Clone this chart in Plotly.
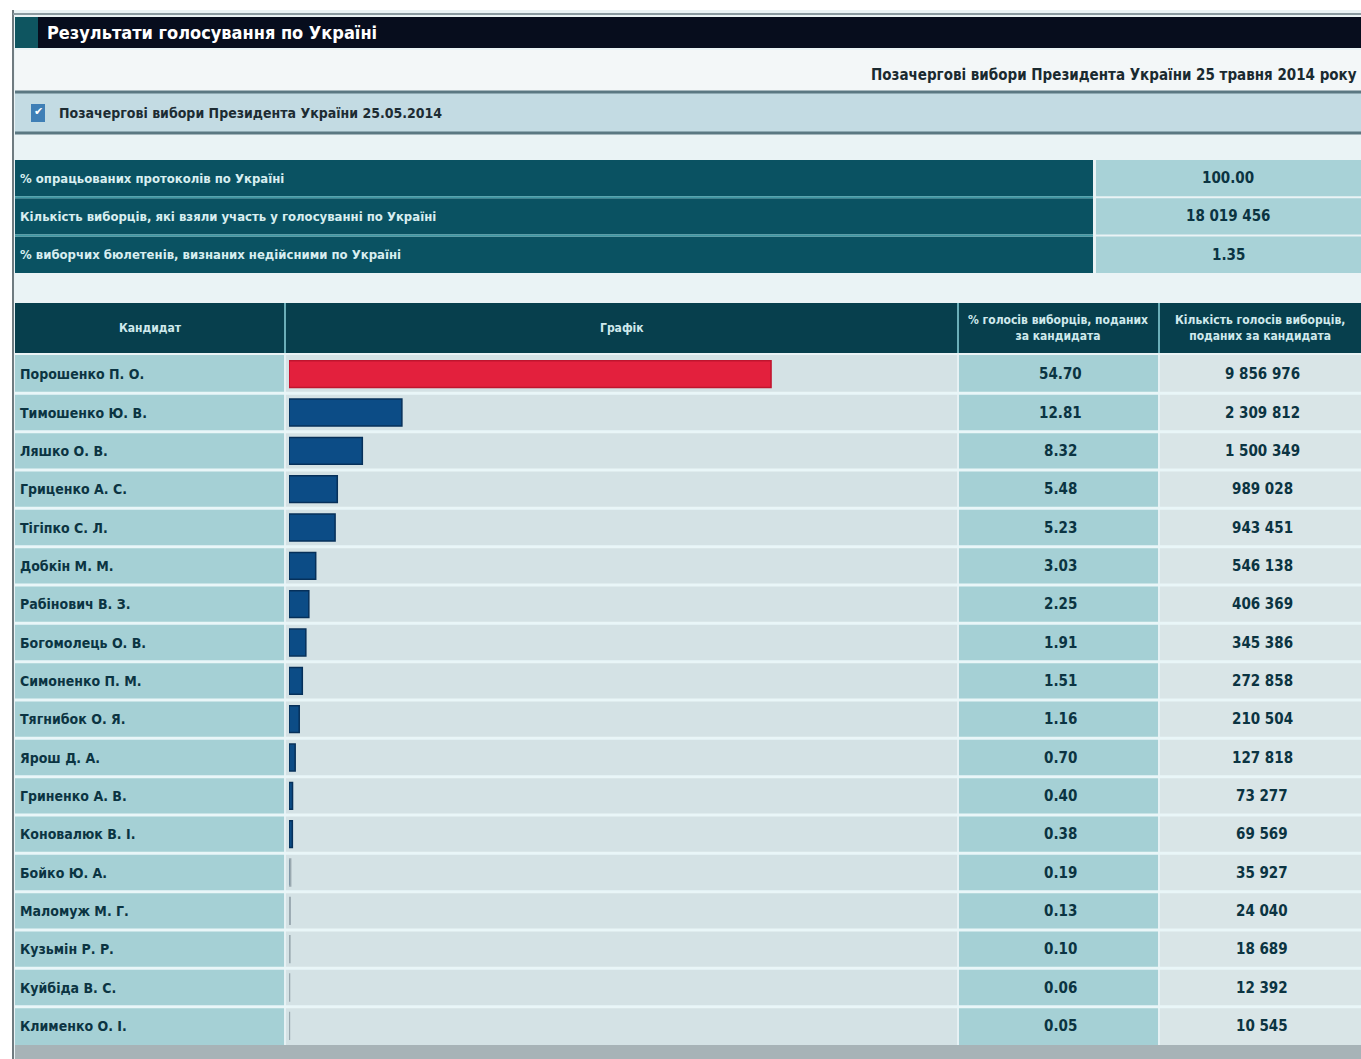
import plotly.graph_objects as go

W, H = 1361, 1059

# ---------------- data ----------------
candidates = ["Порошенко П. О.", "Тимошенко Ю. В.", "Ляшко О. В.", "Гриценко А. С.",
              "Тігіпко С. Л.", "Добкін М. М.", "Рабінович В. З.", "Богомолець О. В.",
              "Симоненко П. М.", "Тягнибок О. Я.", "Ярош Д. А.", "Гриненко А. В.",
              "Коновалюк В. І.", "Бойко Ю. А.", "Маломуж М. Г.", "Кузьмін Р. Р.",
              "Куйбіда В. С.", "Клименко О. І."]
percent = [54.70, 12.81, 8.32, 5.48, 5.23, 3.03, 2.25, 1.91, 1.51, 1.16,
           0.70, 0.40, 0.38, 0.19, 0.13, 0.10, 0.06, 0.05]
votes = ["9 856 976", "2 309 812", "1 500 349", "989 028", "943 451", "546 138",
         "406 369", "345 386", "272 858", "210 504", "127 818", "73 277",
         "69 569", "35 927", "24 040", "18 689", "12 392", "10 545"]
summary_labels = ["% опрацьованих протоколів по Україні",
                  "Кількість виборців, які взяли участь у голосуванні по Україні",
                  "% виборчих бюлетенів, визнаних недійсними по Україні"]
summary_values = ["100.00", "18 019 456", "1.35"]
column_headers = ["Кандидат", "Графік",
                  "% голосів виборців, поданих<br>за кандидата",
                  "Кількість голосів виборців,<br>поданих за кандидата"]
page_title = "Результати голосування по Україні"
election_title = "Позачергові вибори Президента України 25 травня 2014 року"
election_short = "Позачергові вибори Президента України 25.05.2014"

FONT = "DejaVu Sans Condensed, Liberation Sans Narrow, Arial Narrow, sans-serif"
DARK = "#0b3442"


def X(p):
    return p / W


def Y(p):
    return 1 - p / H


shapes = []
annotations = []


def rect(x0, y0, x1, y1, color, layer="below"):
    shapes.append(dict(type="rect", xref="paper", yref="paper",
                       x0=X(x0), x1=X(x1), y0=Y(y1), y1=Y(y0),
                       fillcolor=color, line=dict(width=0), layer=layer))


def hline(x0, x1, y, color, w):
    shapes.append(dict(type="line", xref="paper", yref="paper",
                       x0=X(x0), x1=X(x1), y0=Y(y), y1=Y(y),
                       line=dict(color=color, width=w), layer="below"))


def vline(x, y0, y1, color, w):
    shapes.append(dict(type="line", xref="paper", yref="paper",
                       x0=X(x), x1=X(x), y0=Y(y0), y1=Y(y1),
                       line=dict(color=color, width=w), layer="below"))


def text(x, y, s, size, color, anchor="left", bold=True, family=FONT):
    annotations.append(dict(xref="paper", yref="paper", x=X(x), y=Y(y), text=s,
                            showarrow=False, xanchor=anchor, yanchor="middle",
                            font=dict(family=family, size=size, color=color,
                                      weight="bold" if bold else "normal")))


# ---------------- page chrome ----------------
rect(13, 10, W, H, "#eaf3f5")
vline(13, 10, H, "#6f7b80", 2)
hline(13, W, 14, "#8a9aa0", 2)
# title bar
rect(15, 17, W, 48, "#070d1d")
rect(15, 17, 38, 48, "#0e5560")
text(45, 33, page_title, 18, "#ffffff")
# election line
rect(15, 50, W, 91, "#f3f7f8")
text(1359, 75, election_title, 15, "#1a2a30", anchor="right")
# section band
rect(15, 91, W, 134, "#c3dbe3")
hline(15, W, 92, "#5b7882", 3)
hline(15, W, 133, "#5b7882", 3)
rect(31, 104, 45, 122, "#3f7fb6")
text(38, 112, "✔", 11, "#ffffff", anchor="center", bold=True, family="DejaVu Sans")
text(57, 113, election_short, 14, "#1d2c33")

# ---------------- summary block ----------------
sum_top, sum_h = 160, 38.3
for i, (lab, val) in enumerate(zip(summary_labels, summary_values)):
    y0 = sum_top + i * sum_h
    rect(15, y0, 1093, y0 + sum_h - 2, "#0a5262")
    rect(1096, y0, W, y0 + sum_h - 2, "#a8d2d7")
    text(18, y0 + sum_h / 2 - 1, lab, 13, "#d8eef0")
    text(1228, y0 + sum_h / 2 - 1, val, 15, DARK, anchor="center")
for i in range(1, 3):
    hline(15, 1093, sum_top + i * sum_h - 1, "#3f97a3", 2)

# ---------------- main table ----------------
cols = [(15, 284), (286, 957), (959, 1158), (1160, W)]
col_colors = ["#a5d0d5", "#d4e2e5", "#a5d0d5", "#d9e5e7"]
head_top, head_bot = 303, 353
body_top, body_bot = 355, 1045
for (x0, x1), c in zip(cols, col_colors):
    rect(x0, head_top, x1, head_bot, "#073f4d")
    rect(x0, body_top, x1, body_bot, c)
for xs in (285, 958, 1159):
    vline(xs, head_top, head_bot, "#3f97a3", 1.5)
    vline(xs, body_top, body_bot, "#e4f1f3", 1.5)
rect(15, body_bot, W, H, "#a7b3b7")
centers = [150, 622, 1058, 1260]
for cx, h in zip(centers, column_headers):
    text(cx, 328, h, 12, "#cfe9ec", anchor="center")

n = len(candidates)
# white separators between rows (data coordinates on y axis)
for i in range(n - 1):
    shapes.append(dict(type="line", xref="paper", yref="y", x0=X(15), x1=1,
                       y0=i + 0.5, y1=i + 0.5,
                       line=dict(color="#e9f6f8", width=3), layer="below"))

for name, p, v in zip(candidates, percent, votes):
    annotations.append(dict(xref="paper", yref="y", x=X(18), y=name, text=name,
                            showarrow=False, xanchor="left", yanchor="middle",
                            font=dict(family=FONT, size=14, color=DARK, weight="bold")))
    annotations.append(dict(xref="paper", yref="y", x=X(1060), y=name, text=f"{p:.2f}",
                            showarrow=False, xanchor="center", yanchor="middle",
                            font=dict(family=FONT, size=15, color=DARK, weight="bold")))
    annotations.append(dict(xref="paper", yref="y", x=X(1262), y=name, text=v,
                            showarrow=False, xanchor="center", yanchor="middle",
                            font=dict(family=FONT, size=15, color=DARK, weight="bold")))

bar_colors = ["#e3203d"] + ["#0c4c86"] * (n - 1)
line_colors = ["#c0142e"] + ["#06305a" if p >= 0.3 else "#9aa9b0" for p in percent[1:]]

fig = go.Figure(go.Bar(x=percent, y=candidates, orientation="h", width=0.7,
                       marker=dict(color=bar_colors,
                                   line=dict(color=line_colors, width=1.5)),
                       hoverinfo="x+y"))

fig.update_layout(
    width=W, height=H, margin=dict(l=0, r=0, t=0, b=0),
    paper_bgcolor="#ffffff", plot_bgcolor="rgba(0,0,0,0)",
    showlegend=False, shapes=shapes, annotations=annotations,
    xaxis=dict(domain=[X(289), X(957)], range=[0, 75.8], visible=False, fixedrange=True),
    yaxis=dict(domain=[Y(body_bot), Y(body_top)], range=[n - 0.5, -0.5],
               type="category", categoryorder="array", categoryarray=candidates,
               visible=False, fixedrange=True),
    bargap=0.3,
)

fig.write_html("out.html", config={"displayModeBar": False},
               post_script="document.body.style.margin='0';document.body.style.overflow='hidden';")
